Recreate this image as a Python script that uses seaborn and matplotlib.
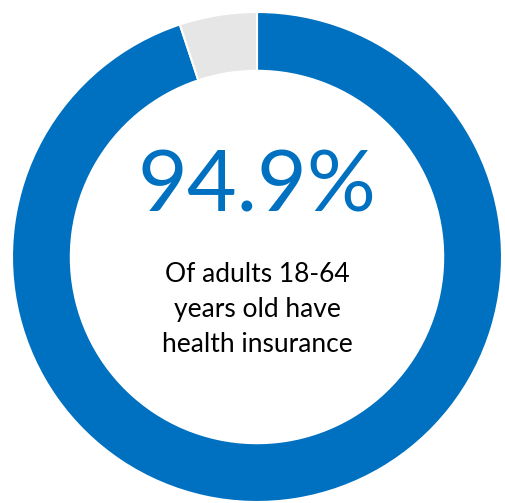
import matplotlib.pyplot as plt
import seaborn as sns

labels = ["Insured", "Uninsured"]
shares = [94.9, 5.1]
colors = ["#0070C0", "#E6E6E6"]
headline = "94.9%"
caption = "Of adults 18-64\nyears old have\nhealth insurance"

sns.set_theme(style="white")
plt.rcParams["font.family"] = ["Lato", "DejaVu Sans"]

fig = plt.figure(figsize=(5.05, 5.03), dpi=100)
ax = fig.add_axes([0, 0, 1, 1])

# donut, blue runs clockwise from 12 o'clock
ax.pie(shares, colors=colors, startangle=90, counterclock=False, radius=1,
       wedgeprops=dict(width=0.24, edgecolor="white", linewidth=1.5))

# pixel layout: centre at (257, 257) from top-left, outer radius 245 px
r_px = 245.0
ax.set_xlim(-257 / r_px, (505 - 257) / r_px)
ax.set_ylim(-(503 - 257) / r_px, 257 / r_px)
ax.set_aspect("equal")
ax.axis("off")

ax.text(0, (257 - 212) / r_px, headline, ha="center", va="baseline",
        fontsize=62, color="#0070C0")
ax.text(0, (257 - 309) / r_px, caption, ha="center", va="center",
        fontsize=19, color="black", linespacing=1.5)

plt.savefig("out.png", dpi=100)
